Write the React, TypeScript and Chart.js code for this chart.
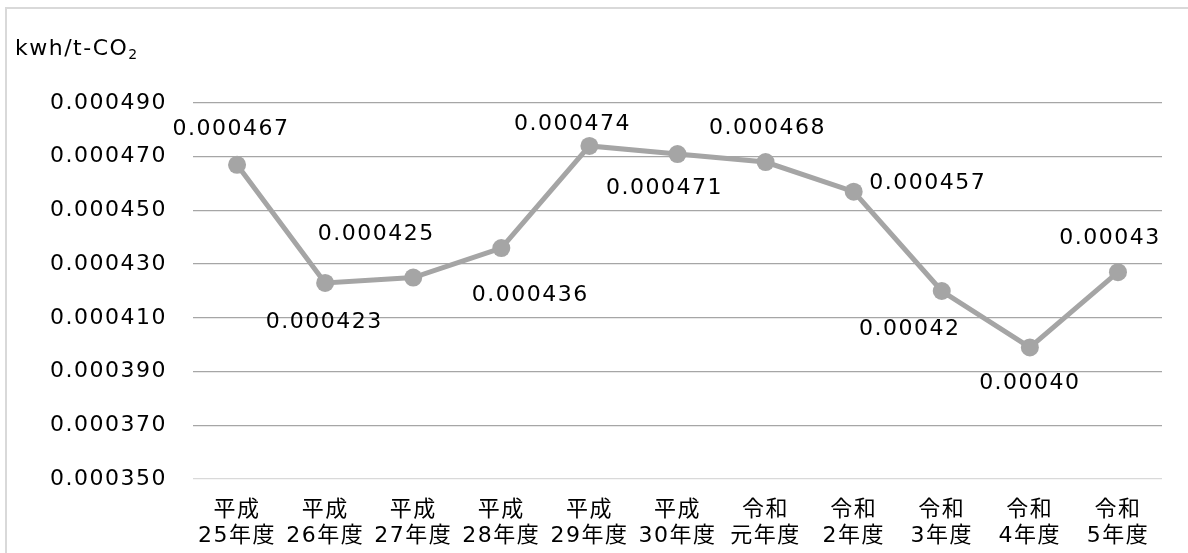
import React, { useEffect, useRef } from 'react';
import { Chart, registerables } from 'chart.js';

Chart.register(...registerables);

// ---- data ----
const categories: string[][] = [
  ['平成', '25年度'],
  ['平成', '26年度'],
  ['平成', '27年度'],
  ['平成', '28年度'],
  ['平成', '29年度'],
  ['平成', '30年度'],
  ['令和', '元年度'],
  ['令和', '2年度'],
  ['令和', '3年度'],
  ['令和', '4年度'],
  ['令和', '5年度'],
];
const values: number[] = [
  0.000467, 0.000423, 0.000425, 0.000436, 0.000474, 0.000471, 0.000468, 0.000457, 0.00042, 0.000399, 0.000427,
];
const valueLabels: string[] = [
  '0.000467', '0.000423', '0.000425', '0.000436', '0.000474', '0.000471', '0.000468', '0.000457', '0.00042', '0.00040', '0.00043',
];
const yTicks: number[] = [0.00035, 0.00037, 0.00039, 0.00041, 0.00043, 0.00045, 0.00047, 0.00049];
const axisTitleMain = 'kwh/t-CO';
const axisTitleSub = '2';

// label placement (offset from each point, px)
const LABEL_OFFSETS: number[][] = [
  [-6, -35], [-1, 39], [-37, -43], [29, 47], [-17, -22], [-13, 34], [2, -34], [74, -8], [-32, 38], [0, 36], [-8, -34],
];

const FONT = "'DejaVu Sans', 'Noto Sans CJK JP', sans-serif";
const SPACING = '1.5px';

const spacingPlugin = {
  id: 'spacing',
  beforeUpdate(chart: any) {
    chart.ctx.letterSpacing = SPACING;
  },
  beforeDraw(chart: any) {
    chart.ctx.letterSpacing = SPACING;
  },
};

const titlePlugin = {
  id: 'unitTitle',
  afterDraw(chart: any) {
    const ctx = chart.ctx;
    ctx.save();
    ctx.letterSpacing = SPACING;
    ctx.fillStyle = '#000';
    ctx.textAlign = 'left';
    ctx.textBaseline = 'alphabetic';
    ctx.font = `22px ${FONT}`;
    const x0 = 15;
    const base = 55;
    ctx.fillText(axisTitleMain, x0, base);
    const w = ctx.measureText(axisTitleMain).width;
    ctx.font = `14px ${FONT}`;
    ctx.fillText(axisTitleSub, x0 + w, base + 4);
    ctx.restore();
  },
};

const labelPlugin = {
  id: 'valueLabels',
  afterDatasetsDraw(chart: any) {
    const ctx = chart.ctx;
    const meta = chart.getDatasetMeta(0);
    ctx.save();
    ctx.letterSpacing = SPACING;
    ctx.font = `22px ${FONT}`;
    ctx.fillStyle = '#000';
    ctx.textAlign = 'center';
    ctx.textBaseline = 'middle';
    meta.data.forEach((pt: any, i: number) => {
      const off = LABEL_OFFSETS[i] || [0, -30];
      ctx.fillText(valueLabels[i], pt.x + off[0], pt.y + off[1]);
    });
    ctx.restore();
  },
};

export default function App() {
  const ref = useRef<HTMLCanvasElement | null>(null);

  useEffect(() => {
    if (!ref.current) return;
    Chart.defaults.font.family = FONT;
    const chart = new Chart(ref.current, {
      type: 'line',
      data: {
        labels: categories,
        datasets: [
          {
            data: values,
            borderColor: '#a5a5a5',
            backgroundColor: '#a5a5a5',
            borderWidth: 5,
            pointRadius: 9,
            pointBackgroundColor: '#a5a5a5',
            pointBorderWidth: 0,
            tension: 0,
          },
        ],
      },
      options: {
        responsive: false,
        animation: false,
        devicePixelRatio: 1,
        layout: { padding: { left: 15, right: 26, top: 103, bottom: 0 } },
        plugins: {
          legend: { display: false },
          tooltip: { enabled: false },
          title: { display: false },
        },
        scales: {
          x: {
            offset: true,
            grid: { display: false, drawTicks: false },
            border: { display: false },
            ticks: {
              color: '#000',
              padding: 19,
              maxRotation: 0,
              autoSkip: false,
              font: { size: 22, family: FONT, lineHeight: 1.15 },
            },
            afterFit: (s: any) => {
              s.height = 74;
            },
          },
          y: {
            min: yTicks[0],
            max: yTicks[yTicks.length - 1],
            grid: {
              drawTicks: false,
              color: (c: any) => (c.index === 0 ? '#d9d9d9' : '#a6a6a6'),
              lineWidth: 1.3,
            },
            border: { display: false },
            ticks: {
              color: '#000',
              padding: 26,
              font: { size: 22, family: FONT },
              callback: (v: any) => Number(v).toFixed(6),
            },
            afterBuildTicks: (s: any) => {
              s.ticks = yTicks.map((v) => ({ value: v }));
            },
            afterFit: (s: any) => {
              s.width = 178;
            },
          },
        },
      },
      plugins: [spacingPlugin, labelPlugin, titlePlugin],
    });
    return () => chart.destroy();
  }, []);

  return (
    <div
      style={{
        position: 'absolute',
        left: 0,
        top: 0,
        width: 1188,
        height: 553,
        overflow: 'hidden',
        background: '#fff',
      }}
    >
      <div
        style={{
          position: 'absolute',
          left: 5,
          top: 7,
          width: 1400,
          height: 800,
          border: '2px solid #d9d9d9',
        }}
      />
      <canvas
        ref={ref}
        width={1188}
        height={553}
        style={{ position: 'absolute', left: 0, top: 0, width: 1188, height: 553, display: 'block' }}
      />
    </div>
  );
}
